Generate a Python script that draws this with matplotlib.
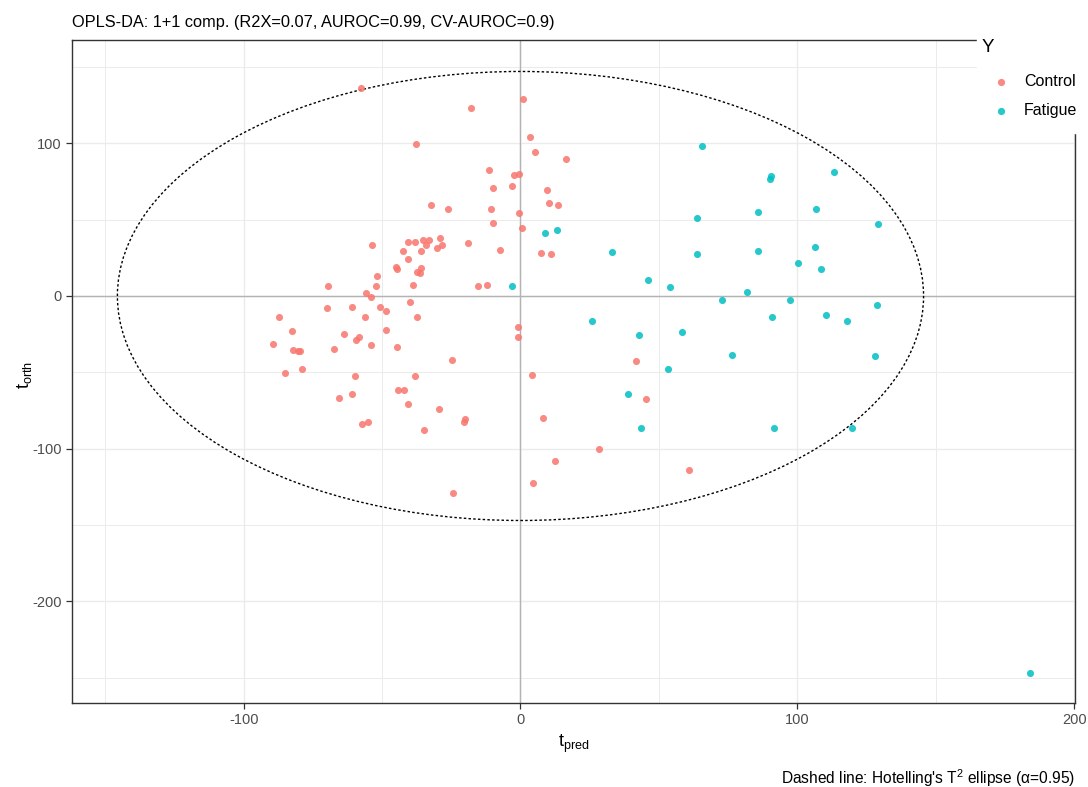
import matplotlib
matplotlib.use("Agg")
import matplotlib.pyplot as plt
from matplotlib.patches import Ellipse, Rectangle
from matplotlib.ticker import MultipleLocator

plt.rcParams['font.family'] = ['Liberation Sans', 'DejaVu Sans']
plt.rcParams['mathtext.fontset'] = 'custom'
plt.rcParams['mathtext.rm'] = 'Liberation Sans'
plt.rcParams['mathtext.it'] = 'Liberation Sans'
plt.rcParams['axes.unicode_minus'] = False

# scores: predictive (t_pred) and orthogonal (t_orth) components
control_tpred = [-57.7, 0.9, -17.7, 3.3, 5.4, 16.4, -37.7, -11.3, -2.3, -0.5,
                 -10.0, -3.1, 9.5, 10.3, 13.6, -32.2, -26.3, -10.5, -0.5, -10.0,
                 0.5, 7.3, 11.0, -7.4, -19.0, -53.6, -40.8, -38.1, -35.1, -33.1,
                 -29.1, -28.5, -30.0, -34.3, -35.8, -42.6, -40.5, -45.0, -44.5, -37.2,
                 -36.4, -35.8, -51.7, -52.2, -69.5, -39.0, -15.4, -12.2, -55.8, -54.1,
                 -69.9, -60.9, -50.8, -48.6, -56.3, -39.9, -37.2, -63.6, -58.5, -59.5,
                 -54.1, -67.2, -48.6, -44.5, -79.8, -78.9, -24.9, -59.9, -38.1, -65.4,
                 -60.9, -44.1, -42.2, -40.5, -29.4, -57.2, -54.9, -34.9, -20.5, -19.9,
                 -24.5, -0.9, -0.9, 4.2, 8.3, 12.3, 4.6, 28.2, 41.9, 45.5,
                 60.9, -87.2, -82.7, -89.5, -82.3, -80.5, -84.9]
control_torth = [136.2, 128.8, 122.9, 103.9, 94.1, 89.9, 99.7, 82.5, 79.2, 80.1,
                 70.9, 71.8, 69.4, 61.1, 59.6, 59.4, 57.0, 57.0, 54.6, 48.0,
                 44.7, 28.2, 27.5, 29.9, 34.7, 33.2, 35.6, 35.6, 36.5, 36.5,
                 38.0, 33.2, 31.4, 33.2, 29.7, 29.7, 24.0, 19.0, 17.5, 15.7,
                 14.9, 18.1, 13.3, 6.5, 6.5, 7.4, 6.5, 7.4, 1.8, -0.7,
                 -8.1, -7.2, -7.2, -9.6, -13.8, -3.9, -13.8, -24.7, -27.0, -28.8,
                 -32.1, -34.5, -22.3, -33.6, -36.0, -47.6, -41.9, -52.6, -52.6, -66.6,
                 -64.2, -61.6, -61.6, -70.7, -74.0, -83.8, -82.3, -88.0, -82.3, -80.5,
                 -129.2, -20.5, -27.0, -51.7, -79.9, -107.9, -122.7, -100.4, -42.8, -67.5,
                 -113.8, -13.8, -22.9, -31.2, -35.4, -36.0, -50.2]

fatigue_tpred = [-3.1, 8.7, 13.1, 65.4, 113.1, 90.0, 90.6, 85.9, 106.8, 63.7,
                 129.0, 32.9, 63.7, 85.9, 106.4, 100.1, 108.6, 45.9, 54.1, 81.8,
                 72.8, 97.3, 128.7, 26.0, 42.9, 58.5, 90.9, 110.4, 117.8, 76.4,
                 128.2, 53.2, 38.7, 43.7, 119.6, 91.6, 184.2]
fatigue_torth = [6.5, 41.5, 43.0, 98.2, 81.0, 76.8, 78.4, 55.2, 57.0, 51.1,
                 47.0, 28.8, 27.3, 29.7, 32.3, 21.4, 17.5, 10.7, 5.9, 2.6,
                 -2.4, -2.4, -5.7, -16.4, -25.5, -23.8, -14.0, -12.2, -16.4, -38.6,
                 -39.5, -47.6, -64.2, -86.4, -86.4, -86.4, -246.9]

groups = ['Control', 'Fatigue']
colors = ['#F8766D', '#00BFC4']

# Hotelling's T2 ellipse semi-axes
t2_a, t2_b = 145.6, 147.0

fig = plt.figure(figsize=(10.88, 7.87), dpi=100)
ax = fig.add_axes([72 / 1088, 1 - 703 / 787, (1075 - 72) / 1088, (703 - 40) / 787])

ax.set_xlim(-162, 200.3)
ax.set_ylim(-266.5, 167.6)
ax.xaxis.set_major_locator(MultipleLocator(100))
ax.xaxis.set_minor_locator(MultipleLocator(50))
ax.yaxis.set_major_locator(MultipleLocator(100))
ax.yaxis.set_minor_locator(MultipleLocator(50))
ax.grid(which='major', color='#EBEBEB', lw=1.0, zorder=0)
ax.grid(which='minor', color='#EBEBEB', lw=0.7, zorder=0)
ax.set_axisbelow(True)
ax.tick_params(which='minor', length=0)
ax.tick_params(which='major', length=4, width=0.9, color='#333333',
               labelsize=10.5, labelcolor='#4D4D4D')
for sp in ax.spines.values():
    sp.set_color('#333333')
    sp.set_linewidth(1.0)

ax.axhline(0, color='#B3B3B3', lw=1.0, zorder=1)
ax.axvline(0, color='#B3B3B3', lw=1.0, zorder=1)

ax.add_patch(Ellipse((0, 0), 2 * t2_a, 2 * t2_b, fill=False, color='black',
                     lw=1.0, linestyle=(0, (1.8, 1.6)), zorder=2))

ax.scatter(control_tpred, control_torth, s=26, color=colors[0], alpha=0.85,
           linewidths=0, zorder=3)
ax.scatter(fatigue_tpred, fatigue_torth, s=26, color=colors[1], alpha=0.85,
           linewidths=0, zorder=3)

ax.set_xlabel(r'$\mathrm{t}_{\mathrm{pred}}$', fontsize=13, labelpad=4)
ax.set_ylabel(r'$\mathrm{t}_{\mathrm{orth}}$', fontsize=13)
ax.yaxis.set_label_coords(-0.038, 0.495)

fig.text(72 / 1088, 1 - 22 / 787, 'OPLS-DA: 1+1 comp. (R2X=0.07, AUROC=0.99, CV-AUROC=0.9)',
         fontsize=11.8, ha='left', va='center')
fig.text(1075 / 1088, 1 - 778 / 787,
         r"Dashed line: Hotelling's T$^2$ ellipse (α=0.95)",
         fontsize=11.2, ha='right', va='center')

# legend sits over the top-right corner of the panel
fig.patches.append(Rectangle((977 / 1088, 1 - 133 / 787), 1, 1, color='white',
                             transform=fig.transFigure, zorder=5))
fig.text(982 / 1088, 1 - 47 / 787, 'Y', fontsize=13.5, ha='left', va='center', zorder=6)
for i, (g, c) in enumerate(zip(groups, colors)):
    yy = 1 - (82 + 29 * i) / 787
    fig.lines.append(plt.Line2D([1001 / 1088], [yy], marker='o', ms=5.2, color=c,
                                alpha=0.85, mew=0, transform=fig.transFigure, zorder=6))
    fig.text(1024 / 1088, yy, g, fontsize=11.5, ha='left', va='center', zorder=6)

fig.savefig('out.png', dpi=100)
